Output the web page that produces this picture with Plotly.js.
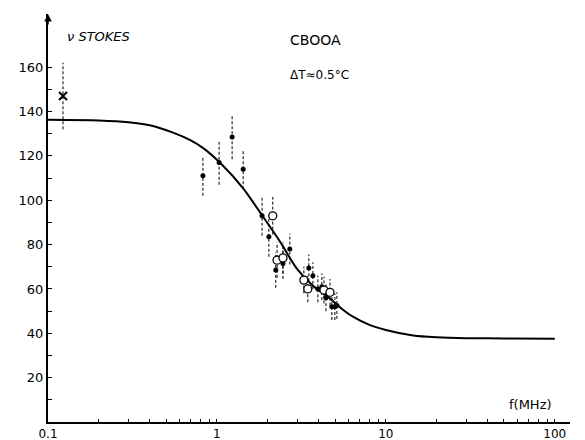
<!DOCTYPE html>
<html>
<head>
<meta charset="utf-8">
<script src="https://cdn.plot.ly/plotly-3.0.1.min.js"></script>
<style>html,body{margin:0;padding:0;background:#fff;}#chart{width:585px;height:440px;}</style>
</head>
<body>
<div id="chart"></div>
<script>
// Fitted curve (f in MHz, viscosity in stokes)
const curveF = [0.1, 0.2, 0.3, 0.4, 0.55, 0.7, 0.83, 1.04, 1.43, 1.85, 2.36, 2.97, 3.7, 4.67, 5.5, 6.38, 8, 10, 14.5, 20, 30, 50, 100];
const curveV = [136.3, 136, 135.2, 133.8, 130.5, 127, 123.5, 117, 105.4, 93.2, 81.4, 69.2, 61.5, 55.7, 51, 47.5, 43.8, 41.5, 39, 38.2, 37.8, 37.7, 37.5];

// Filled points
const filledF = [0.826, 1.03, 1.23, 1.43, 1.85, 2.03, 2.23, 2.46, 2.70, 3.50, 3.70, 3.96, 4.18, 4.42, 4.79, 4.99, 5.13];
const filledV = [111, 117, 128.5, 114, 93, 83.5, 68.5, 71.5, 78, 69.5, 66, 60, 61, 56, 52, 52, 52.5];
const filledE = [9, 10, 10, 9, 9, 9, 8, 7, 7, 6, 6, 6, 6, 6, 6, 6, 6];

// Open points
const openF = [2.14, 2.27, 2.46, 3.27, 3.45, 4.30, 4.67];
const openV = [93, 73, 74, 64, 60, 59.5, 58.5];
const openE = [8.5, 8, 7, 6, 6, 6, 6];

// Cross point
const crossF = [0.1227];
const crossV = [147];
const crossE = [15];

// Tick values / labels
const xTickVals = [0.1,0.2,0.3,0.4,0.5,0.6,0.7,0.8,0.9,1,2,3,4,5,6,7,8,9,10,20,30,40,50,60,70,80,90,100];
const xTickText = xTickVals.map(v => v === 0.1 ? '0.1' : (v === 1 ? '1' : (v === 10 ? '10' : (v === 100 ? '100' : ''))));
const yTickVals = [10,20,30,40,50,60,70,80,90,100,110,120,130,140,150,160];
const yTickText = yTickVals.map(v => v % 20 === 0 ? String(v) : '');

// Build dashed error-bar segments from the data
const allF = filledF.concat(openF, crossF);
const allV = filledV.concat(openV, crossV);
const allE = filledE.concat(openE, crossE);
const ebx = [], eby = [];
for (let i = 0; i < allF.length; i++) {
  ebx.push(allF[i], allF[i], null);
  eby.push(allV[i] - allE[i], allV[i] + allE[i], null);
}

const font = 'DejaVu Sans, sans-serif';

const traces = [
  {x: ebx, y: eby, mode: 'lines', line: {color: '#000', width: 1, dash: '3px,2px'}, connectgaps: false, hoverinfo: 'skip', showlegend: false},
  {x: curveF, y: curveV, mode: 'lines', line: {color: '#000', width: 2, shape: 'spline', smoothing: 0.8}, showlegend: false},
  {x: filledF, y: filledV, mode: 'markers', marker: {symbol: 'circle', size: 5, color: '#000'}, showlegend: false},
  {x: openF, y: openV, mode: 'markers', marker: {symbol: 'circle', size: 8, color: '#fff', line: {color: '#000', width: 1.3}}, showlegend: false},
  {x: crossF, y: crossV, mode: 'markers', marker: {symbol: 'x-thin-open', size: 8, color: '#000', line: {color: '#000', width: 2}}, showlegend: false}
];

const layout = {
  width: 585, height: 440,
  margin: {l: 48, r: 15, t: 14, b: 18},
  paper_bgcolor: '#fff', plot_bgcolor: '#fff',
  showlegend: false,
  xaxis: {
    type: 'log', range: [-1, 2.09],
    showgrid: false, zeroline: false,
    showline: true, linecolor: '#000', linewidth: 2,
    tickmode: 'array', tickvals: xTickVals, ticktext: xTickText,
    ticks: 'inside', ticklen: 3, tickcolor: '#000', tickwidth: 1,
    tickfont: {family: font, size: 12, color: '#000'}
  },
  yaxis: {
    range: [0, 184],
    showgrid: false, zeroline: false,
    showline: true, linecolor: '#000', linewidth: 2,
    tickmode: 'array', tickvals: yTickVals, ticktext: yTickText,
    ticks: 'inside', ticklen: 4, tickcolor: '#000', tickwidth: 1,
    tickfont: {family: font, size: 13, color: '#000'}
  },
  annotations: [
    {xref: 'paper', yref: 'paper', x: 0.033, y: 0.944, xanchor: 'left', yanchor: 'middle', showarrow: false,
     text: '<i>ν STOKES</i>', font: {family: font, size: 13, color: '#000'}},
    {xref: 'paper', yref: 'paper', x: 0.46, y: 0.936, xanchor: 'left', yanchor: 'middle', showarrow: false,
     text: 'CBOOA', font: {family: font, size: 14, color: '#000'}},
    {xref: 'paper', yref: 'paper', x: 0.46, y: 0.851, xanchor: 'left', yanchor: 'middle', showarrow: false,
     text: 'ΔT≈0.5°C', font: {family: font, size: 12, color: '#000'}},
    {xref: 'paper', yref: 'paper', x: 0.879, y: 0.042, xanchor: 'left', yanchor: 'middle', showarrow: false,
     text: 'f(MHz)', font: {family: font, size: 13, color: '#000'}},
    {xref: 'paper', yref: 'paper', x: 0, y: 1, showarrow: true, text: '', ax: 0, ay: 12,
     arrowhead: 2, arrowsize: 1, arrowwidth: 1.5, arrowcolor: '#000'}
  ]
};

Plotly.newPlot('chart', traces, layout, {staticPlot: true, displayModeBar: false});
</script>
</body>
</html>
